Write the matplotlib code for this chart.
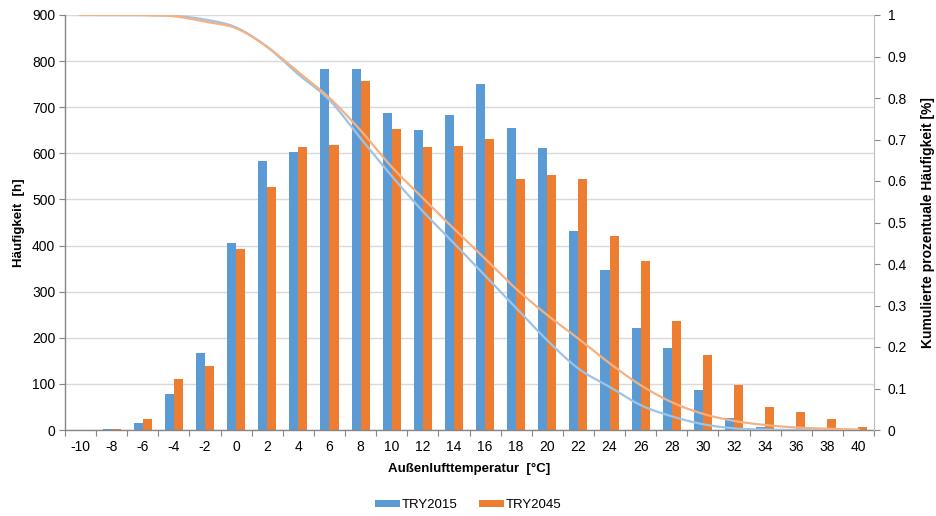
import numpy as np
import matplotlib
matplotlib.use("Agg")
import matplotlib.pyplot as plt
from matplotlib.patches import Patch

# ---- data ----
temps = ["-10", "-8", "-6", "-4", "-2", "0", "2", "4", "6", "8", "10", "12", "14",
         "16", "18", "20", "22", "24", "26", "28", "30", "32", "34", "36", "38", "40"]
try2015 = [0, 3, 15, 78, 168, 406, 583, 603, 783, 783, 688, 651, 683,
           751, 655, 612, 432, 347, 221, 177, 86, 26, 7, 1, 0, 0]
try2045 = [1, 3, 23, 111, 139, 392, 527, 614, 619, 756, 653, 614, 615,
           631, 544, 554, 544, 420, 366, 236, 162, 98, 49, 39, 24, 6]
cum2015 = [1.0, 1.0, 0.9997, 0.998, 0.989, 0.970, 0.923, 0.857, 0.795, 0.703, 0.612, 0.527, 0.450,
           0.372, 0.294, 0.216, 0.148, 0.104, 0.060, 0.033, 0.014, 0.004, 0.001, 0.0, 0.0, 0.0]
cum2045 = [1.0, 1.0, 0.9997, 0.997, 0.984, 0.968, 0.923, 0.862, 0.800, 0.722, 0.634, 0.559, 0.485,
           0.413, 0.340, 0.277, 0.220, 0.161, 0.108, 0.067, 0.039, 0.022, 0.012, 0.006, 0.003, 0.001]
series_names = ["TRY2015", "TRY2045"]

BAR_BLUE = "#5B9BD5"
BAR_ORANGE = "#ED7D31"
LINE_BLUE = "#9DC3E6"
LINE_ORANGE = "#F4B183"
GRID = "#D9D9D9"
AXIS = "#868686"
TXT = "#000000"

plt.rcParams["font.family"] = ["Liberation Sans", "DejaVu Sans"]


def smooth(xs, ys, n=20):
    """Catmull-Rom style smoothing (like Excel smoothed lines) for drawing."""
    xs = np.asarray(xs, float)
    ys = np.asarray(ys, float)
    px = np.concatenate([[2 * xs[0] - xs[1]], xs, [2 * xs[-1] - xs[-2]]])
    py = np.concatenate([[2 * ys[0] - ys[1]], ys, [2 * ys[-1] - ys[-2]]])
    ox, oy = [], []
    for i in range(1, len(px) - 2):
        t = np.linspace(0, 1, n, endpoint=False)
        for arr, out in ((px, ox), (py, oy)):
            p0, p1, p2, p3 = arr[i - 1], arr[i], arr[i + 1], arr[i + 2]
            out.extend(0.5 * ((2 * p1) + (-p0 + p2) * t +
                              (2 * p0 - 5 * p1 + 4 * p2 - p3) * t ** 2 +
                              (-p0 + 3 * p1 - 3 * p2 + p3) * t ** 3))
    ox.append(xs[-1])
    oy.append(ys[-1])
    return np.array(ox), np.array(oy)


fig = plt.figure(figsize=(9.36, 5.16), dpi=100)
ax = fig.add_axes([65 / 936, 1 - 430 / 516, (874 - 65) / 936, (430 - 15) / 516])

x = np.arange(len(temps))
w = 0.29
ax.bar(x - w / 2, try2015, width=w, color=BAR_BLUE, zorder=2)
ax.bar(x + w / 2, try2045, width=w, color=BAR_ORANGE, zorder=2)

ax.set_xlim(-0.5, len(temps) - 0.5)
ax.set_ylim(0, 900)
ax.set_yticks(np.arange(0, 901, 100))
ax.yaxis.grid(True, color=GRID, linewidth=1.0, zorder=0)
ax.set_axisbelow(True)

# ticks between categories, labels at centres
ax.set_xticks(np.arange(-0.5, len(temps), 1.0))
ax.set_xticklabels([])
ax.set_xticks(x, minor=True)
ax.set_xticklabels(temps, minor=True)
ax.tick_params(axis="x", which="major", length=4, color=AXIS, direction="out")
ax.tick_params(axis="x", which="minor", length=0, pad=7, labelsize=10, labelcolor=TXT)
ax.tick_params(axis="y", length=4, color=AXIS, labelsize=10, labelcolor=TXT, pad=3)

for s in ["top", "right"]:
    ax.spines[s].set_visible(False)
for s in ["left", "bottom"]:
    ax.spines[s].set_color(AXIS)
    ax.spines[s].set_linewidth(1.0)

ax.set_xlabel("Außenlufttemperatur  [°C]", fontsize=9.5, fontweight="bold", labelpad=7)
ax.set_ylabel("Häufigkeit  [h]", fontsize=9.5, fontweight="bold", labelpad=5)

ax2 = ax.twinx()
ax2.set_ylim(0, 1)
ax2.set_yticks(np.round(np.arange(0, 1.01, 0.1), 1))
ax2.set_yticklabels(["0", "0.1", "0.2", "0.3", "0.4", "0.5", "0.6", "0.7", "0.8", "0.9", "1"])
ax2.tick_params(axis="y", length=4, color=AXIS, labelsize=10, labelcolor=TXT, pad=6)
for s in ["top", "left", "bottom"]:
    ax2.spines[s].set_visible(False)
ax2.spines["right"].set_color("#BFBFBF")

sx, sy = smooth(x, cum2015)
ax2.plot(sx, np.clip(sy, 0, 1), color=LINE_BLUE, linewidth=1.6, zorder=3)
sx, sy = smooth(x, cum2045)
ax2.plot(sx, np.clip(sy, 0, 1), color=LINE_ORANGE, linewidth=1.6, zorder=3)
ax2.set_ylabel("Kumulierte prozentuale Häufigkeit [%]", fontsize=10, fontweight="bold", labelpad=10)

handles = [Patch(facecolor=BAR_BLUE), Patch(facecolor=BAR_ORANGE)]
fig.legend(handles, series_names, loc="center", bbox_to_anchor=(0.5, 1 - 505 / 516),
           ncol=2, frameon=False, fontsize=9.5, handlelength=1.9, handleheight=0.45,
           handletextpad=0.15, columnspacing=1.6)

fig.savefig("out.png", dpi=100)
